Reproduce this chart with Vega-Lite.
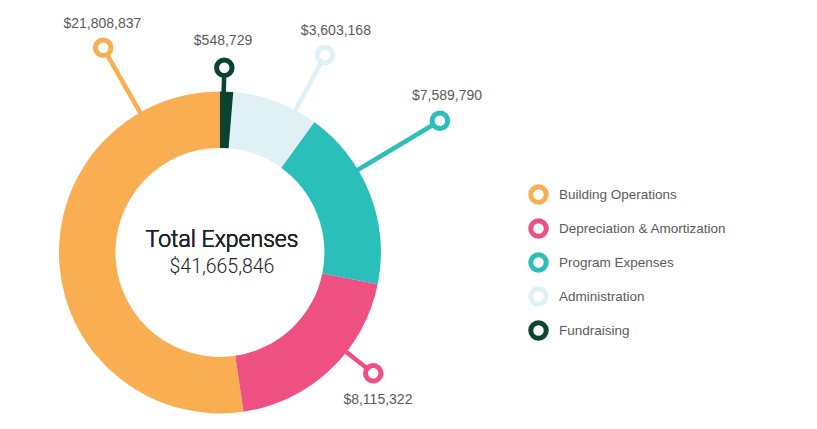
{
  "$schema": "https://vega.github.io/schema/vega-lite/v6.json",
  "width": 817,
  "height": 429,
  "autosize": {"type": "fit", "contains": "padding"},
  "padding": 0,
  "background": "white",
  "config": {"view": {"stroke": null}, "font": "Liberation Sans"},

  "data": {
    "values": [
      {"category": "Building Operations", "amount": 21808837, "rank": 5, "rx": -72.5, "ry": 127.1, "sx": -44.6, "sy": 78.2, "lx": -73.0, "ly": 139.4},
      {"category": "Depreciation & Amortization", "amount": 8115322, "rank": 4, "rx": 95.2, "ry": -75.1, "sx": 70.6, "sy": -55.7, "lx": 98.1, "ly": -94.2},
      {"category": "Program Expenses", "amount": 7589790, "rank": 3, "rx": 136.6, "ry": 81.8, "sx": 77.2, "sy": 46.2, "lx": 141.0, "ly": 94.7},
      {"category": "Administration", "amount": 3603168, "rank": 2, "rx": 65.2, "ry": 122.6, "sx": 42.2, "sy": 79.4, "lx": 72.0, "ly": 135.0},
      {"category": "Fundraising", "amount": 548729, "rank": 1, "rx": 2.7, "ry": 114.7, "sx": 2.1, "sy": 90, "lx": 1.9, "ly": 128.8}
    ]
  },

  "layer": [
    {
      "mark": {"type": "rule", "strokeWidth": 4.5},
      "encoding": {
        "x": {"field": "sx", "type": "quantitative", "scale": {"domain": [-136.6, 370.8], "nice": false, "zero": false}, "axis": null},
        "y": {"field": "sy", "type": "quantitative", "scale": {"domain": [-109.7, 156.8], "nice": false, "zero": false}, "axis": null},
        "x2": {"field": "rx"},
        "y2": {"field": "ry"},
        "color": {
          "field": "category",
          "type": "nominal",
          "scale": {
            "domain": ["Building Operations", "Depreciation & Amortization", "Program Expenses", "Administration", "Fundraising"],
            "range": ["#F9AE51", "#EF5082", "#2BBFBA", "#E0F1F6", "#0A4430"]
          },
          "legend": {
            "orient": "none",
            "legendX": 528,
            "legendY": 184,
            "title": null,
            "padding": 0,
            "symbolType": "circle",
            "symbolSize": 240,
            "symbolStrokeWidth": 5,
            "symbolFillColor": "white",
            "symbolOpacity": 1,
            "labelFont": "Liberation Sans",
            "labelFontSize": 13.5,
            "labelColor": "#5a5a5a",
            "labelOffset": 10,
            "labelLimit": 300,
            "rowPadding": -3
          }
        }
      }
    },
    {
      "mark": {"type": "arc", "radius": 161, "radius2": 104.5},
      "encoding": {
        "x": {"datum": 0, "type": "quantitative"},
        "y": {"datum": 0, "type": "quantitative"},
        "theta": {"field": "amount", "type": "quantitative", "stack": true},
        "order": {"field": "rank", "type": "quantitative"},
        "fill": {
          "field": "category",
          "type": "nominal",
          "scale": {
            "domain": ["Fundraising", "Administration", "Program Expenses", "Depreciation & Amortization", "Building Operations"],
            "range": ["#0A4430", "#E0F1F6", "#2BBFBA", "#EF5082", "#F9AE51"]
          },
          "legend": null
        }
      }
    },
    {
      "mark": {"type": "point", "shape": "circle", "filled": false, "fill": "white", "size": 240, "strokeWidth": 5, "opacity": 1},
      "encoding": {
        "x": {"field": "rx", "type": "quantitative"},
        "y": {"field": "ry", "type": "quantitative"},
        "color": {"field": "category", "type": "nominal"}
      }
    },
    {
      "mark": {"type": "text", "align": "center", "baseline": "alphabetic", "fontSize": 14, "color": "#5a5a5a"},
      "encoding": {
        "x": {"field": "lx", "type": "quantitative"},
        "y": {"field": "ly", "type": "quantitative"},
        "text": {"field": "amount", "type": "quantitative", "format": "$,.0f"}
      }
    },
    {
      "mark": {"type": "text", "align": "center", "baseline": "alphabetic", "font": "Roboto", "fontWeight": 300, "fontSize": 23, "color": "#222222", "dx": 2},
      "encoding": {
        "x": {"datum": 0, "type": "quantitative"},
        "y": {"datum": 3.4, "type": "quantitative"},
        "text": {"value": "Total Expenses"}
      }
    },
    {
      "mark": {"type": "text", "align": "center", "baseline": "alphabetic", "font": "Roboto", "fontWeight": 300, "fontSize": 19.5, "color": "#222222", "dx": 2},
      "encoding": {
        "x": {"datum": 0, "type": "quantitative"},
        "y": {"datum": -12.8, "type": "quantitative"},
        "text": {"aggregate": "sum", "field": "amount", "type": "quantitative", "format": "$,.0f"}
      }
    }
  ]
}
